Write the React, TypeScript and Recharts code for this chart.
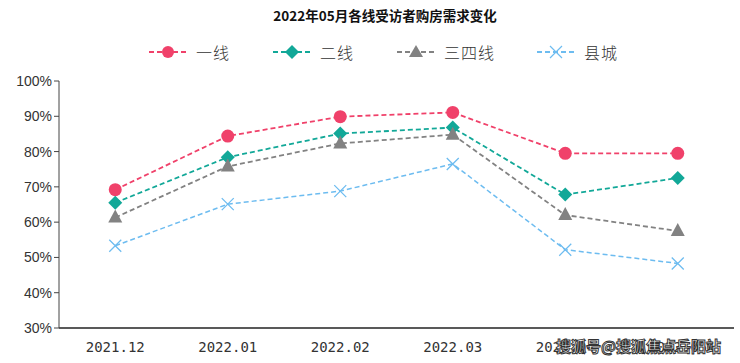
import React from "react";
import { LineChart, Line, XAxis, YAxis } from "recharts";

const categories = ["2021.12", "2022.01", "2022.02", "2022.03", "2022.04", "2022.05"];
const tier1 = [69.2, 84.4, 89.9, 91.1, 79.5, 79.5];
const tier2 = [65.5, 78.4, 85.1, 86.8, 67.8, 72.5];
const tier34 = [61.3, 75.8, 82.3, 84.8, 62.0, 57.5];
const county = [53.3, 65.1, 68.8, 76.5, 52.2, 48.3];
const yTicks = [30, 40, 50, 60, 70, 80, 90, 100];

const seriesNames = ["一线", "二线", "三四线", "县城"];
const colors = ["#f0416a", "#12a898", "#828282", "#6dbcf0"];

const data = categories.map((c, i) => ({
  name: c,
  t1: tier1[i],
  t2: tier2[i],
  t34: tier34[i],
  cty: county[i],
}));

const CircleDot = (p: any) => (
  <circle key={`c${p.index}`} cx={p.cx} cy={p.cy} r={6.5} fill={colors[0]} />
);
const DiamondDot = (p: any) => (
  <path
    key={`d${p.index}`}
    d={`M${p.cx},${p.cy - 7} L${p.cx + 7},${p.cy} L${p.cx},${p.cy + 7} L${p.cx - 7},${p.cy} Z`}
    fill={colors[1]}
  />
);
const TriDot = (p: any) => (
  <path
    key={`t${p.index}`}
    d={`M${p.cx},${p.cy - 8} L${p.cx + 7},${p.cy + 5} L${p.cx - 7},${p.cy + 5} Z`}
    fill={colors[2]}
  />
);
const XDot = (p: any) => (
  <path
    key={`x${p.index}`}
    d={`M${p.cx - 6},${p.cy - 6} L${p.cx + 6},${p.cy + 6} M${p.cx + 6},${p.cy - 6} L${p.cx - 6},${p.cy + 6}`}
    stroke={colors[3]}
    strokeWidth={1.3}
    fill="none"
  />
);

const legendMarkers = [
  (c: string) => <circle cx={19} cy={8} r={6} fill={c} />,
  (c: string) => <path d="M19,1 L26,8 L19,15 L12,8 Z" fill={c} />,
  (c: string) => <path d="M19,1 L26,13 L12,13 Z" fill={c} />,
  (c: string) => (
    <path d="M13,2 L25,14 M25,2 L13,14" stroke={c} strokeWidth={1.2} fill="none" />
  ),
];
const legendLeft = [149, 273, 397, 537];

const xTick = (props: any) => {
  const { x, y, payload } = props;
  return (
    <text
      x={x}
      y={y + 16}
      textAnchor="middle"
      fontFamily="'DejaVu Sans Mono', monospace"
      fontSize={14}
      fill="#333"
    >
      {payload.value}
    </text>
  );
};

export default function App() {
  return (
    <div style={{ position: "relative", width: 740, height: 363, background: "#fff" }}>
      <style>{`body{margin:0;}`}</style>
      <div
        style={{
          position: "absolute",
          left: 0,
          width: 770,
          top: 5,
          textAlign: "center",
          fontFamily: "'Noto Sans CJK SC', sans-serif",
          fontWeight: 700,
          fontSize: 13.5,
          color: "#111",
          lineHeight: "20px",
        }}
      >
        2022年05月各线受访者购房需求变化
      </div>
      {seriesNames.map((n, i) => (
        <div
          key={n}
          style={{
            position: "absolute",
            left: legendLeft[i],
            top: 43,
            display: "flex",
            alignItems: "center",
            height: 18,
          }}
        >
          <svg width={38} height={16}>
            <line
              x1={0}
              y1={8}
              x2={38}
              y2={8}
              stroke={colors[i]}
              strokeWidth={1.8}
              strokeDasharray="5 3"
            />
            {legendMarkers[i](colors[i])}
          </svg>
          <span
            style={{
              marginLeft: 9,
              fontFamily: "'Noto Sans CJK SC', serif",
              fontWeight: 300,
              fontSize: 16,
              color: "#333",
              letterSpacing: 1,
            }}
          >
            {n}
          </span>
        </div>
      ))}
      <div style={{ position: "absolute", left: 0, top: 0 }}>
        <LineChart
          width={740}
          height={363}
          data={data}
          margin={{ top: 81, right: 6, bottom: 0, left: 0 }}
        >
          <XAxis
            dataKey="name"
            scale="band"
            tickLine={false}
            axisLine={{ stroke: "#222", strokeWidth: 1.5 }}
            tick={xTick}
            height={35}
            interval={0}
          />
          <YAxis
            domain={[30, 100]}
            ticks={yTicks}
            width={59}
            tickFormatter={(v: number) => `${v}%`}
            axisLine={{ stroke: "#444", strokeWidth: 1 }}
            tickLine={{ stroke: "#444" }}
            tickSize={5}
            tick={{
              fontFamily: "'Liberation Sans', Arial, sans-serif",
              fontSize: 14,
              fill: "#333",
            }}
            interval={0}
          />
          <Line
            dataKey="t1"
            stroke={colors[0]}
            strokeWidth={1.8}
            strokeDasharray="5 3"
            dot={CircleDot}
            activeDot={false}
            isAnimationActive={false}
          />
          <Line
            dataKey="t2"
            stroke={colors[1]}
            strokeWidth={1.8}
            strokeDasharray="5 3"
            dot={DiamondDot}
            activeDot={false}
            isAnimationActive={false}
          />
          <Line
            dataKey="t34"
            stroke={colors[2]}
            strokeWidth={1.8}
            strokeDasharray="5 3"
            dot={TriDot}
            activeDot={false}
            isAnimationActive={false}
          />
          <Line
            dataKey="cty"
            stroke={colors[3]}
            strokeWidth={1.5}
            strokeDasharray="5 3"
            dot={XDot}
            activeDot={false}
            isAnimationActive={false}
          />
        </LineChart>
      </div>
      <div
        style={{
          position: "absolute",
          left: 556,
          top: 336,
          fontFamily: "'Noto Sans CJK SC', sans-serif",
          fontWeight: 700,
          fontSize: 15,
          color: "#fff",
          WebkitTextStroke: "1px #333",
          lineHeight: "20px",
          whiteSpace: "nowrap",
        }}
      >
        搜狐号@搜狐焦点岳阳站
      </div>
    </div>
  );
}
